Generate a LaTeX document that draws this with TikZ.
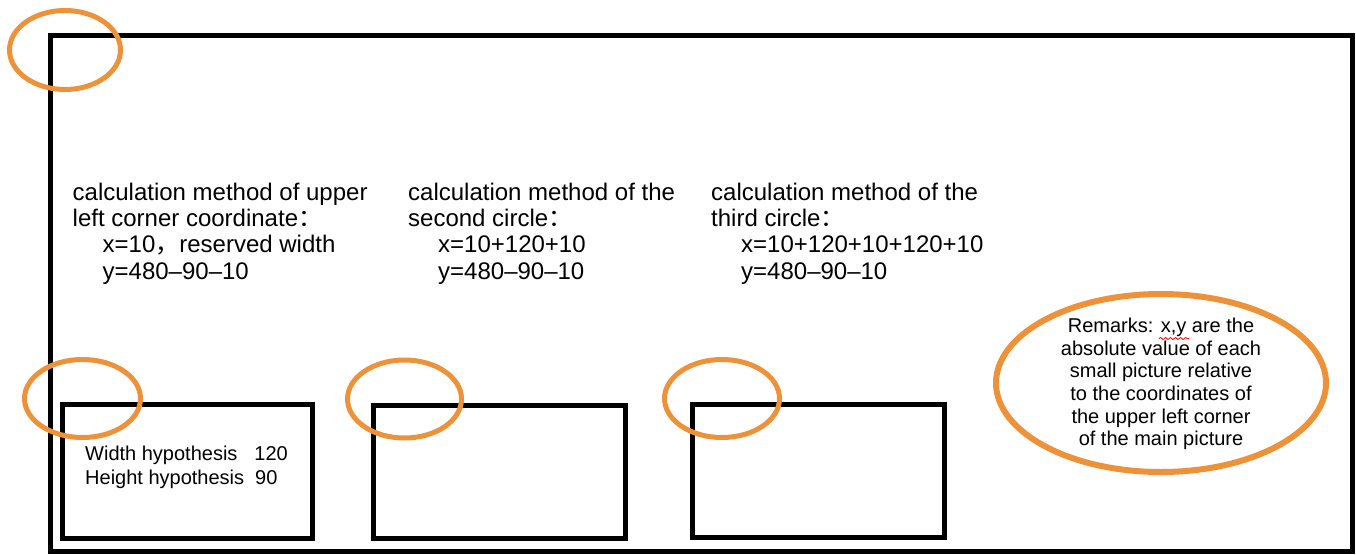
\documentclass[tikz,border=0pt]{standalone}
\usepackage{fontspec}
\setmainfont{Liberation Sans}
\newfontfamily\cjkp{Noto Sans CJK SC}
\usetikzlibrary{decorations.pathmorphing}
\definecolor{ring}{RGB}{238,146,58}
\begin{document}
\begin{tikzpicture}[x=1pt,y=-1pt,
  frame/.style={draw=black,line width=5pt},
  ring/.style={draw=ring,line width=5pt},
  head/.style={anchor=base west,inner sep=0pt,align=left,font=\fontsize{24}{26.2}\selectfont},
  small/.style={inner sep=0pt,font=\fontsize{20}{23.3}\selectfont}]
\useasboundingbox (0,0) rectangle (1356,554);
% main frame
\draw[frame] (50,35) rectangle (1352,551);
% small pictures
\draw[frame] (62.5,404.5) rectangle (312,538);
\draw[frame] (373,405.5) rectangle (625,538);
\draw[frame] (692,404.5) rectangle (944,537);
% rings
\draw[ring] (65,50) ellipse [x radius=55.5, y radius=39.5];
\draw[ring] (82.5,398.5) ellipse [x radius=58, y radius=39];
\draw[ring] (404.5,399) ellipse [x radius=57, y radius=39];
\draw[ring] (722,398.5) ellipse [x radius=57.5, y radius=39];
\draw[ring,line width=6pt] (1161,383) ellipse [x radius=165, y radius=89];
% texts (base anchor = baseline of last line)
\node[head] (t1) at (72.5,279) {calculation method of upper\\left corner coordinate{\cjkp ：}\\\hspace*{30pt}x=10{\cjkp ，}reserved width\\\hspace*{30pt}y=480–90–10};
\node[head] (t2) at (408,279) {calculation method of the\\second circle{\cjkp ：}\\\hspace*{30pt}x=10+120+10\\\hspace*{30pt}y=480–90–10};
\node[head] (t3) at (711,279) {calculation method of the\\third circle{\cjkp ：}\\\hspace*{30pt}x=10+120+10+120+10\\\hspace*{30pt}y=480–90–10};
\node[small,anchor=base west,align=left] (wh) at (85,484) {Width hypothesis\hspace{17pt}120\\Height hypothesis\hspace{11pt}90};
\node[small,anchor=base,align=center,font=\fontsize{20}{22.6}\selectfont] (rm) at (1161,445.7) {Remarks: x,y are the\\absolute value of each\\small picture relative\\to the coordinates of\\the upper left corner\\of the main picture};
\draw[red,line width=0.8pt,decorate,decoration={snake,segment length=5pt,amplitude=1pt}] (1159,338.5) -- (1189,338.5);
\end{tikzpicture}
\end{document}
